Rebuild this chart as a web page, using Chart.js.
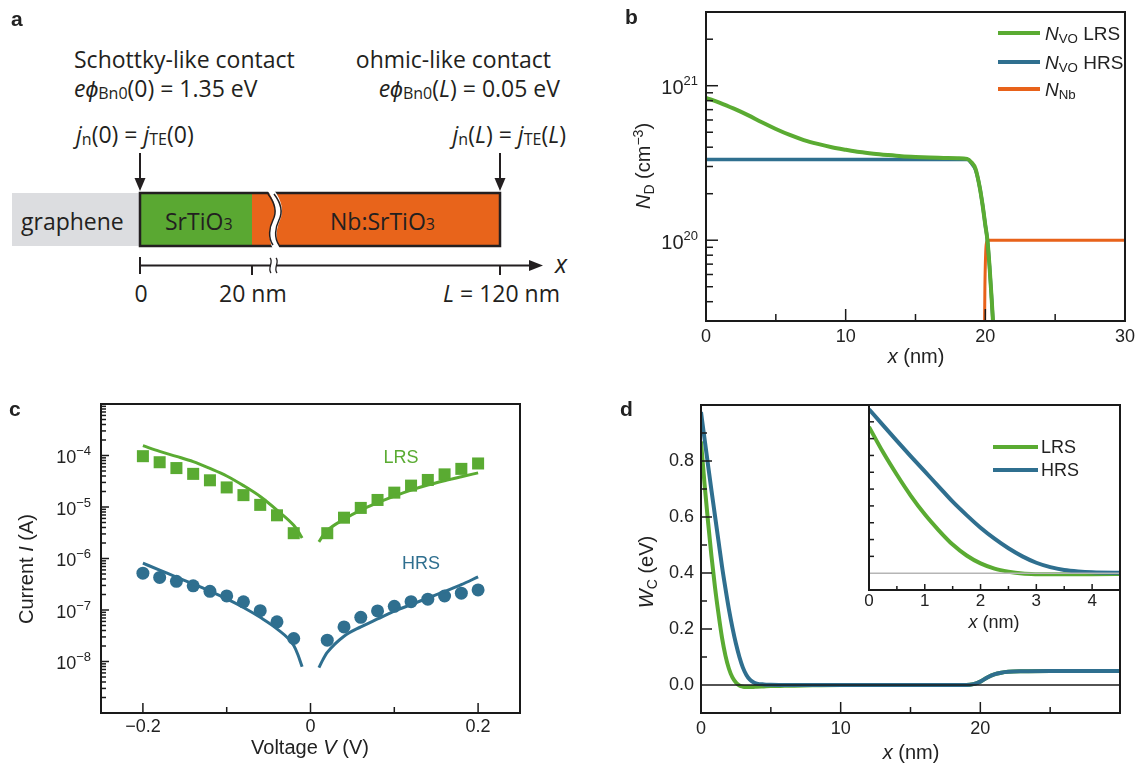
<!DOCTYPE html>
<html>
<head>
<meta charset="utf-8">
<script src="https://cdn.jsdelivr.net/npm/chart.js@4.4.0/dist/chart.umd.min.js"></script>
<style>
  html, body { margin: 0; padding: 0; background: #fff; }
  #fig { position: relative; width: 1140px; height: 767px; overflow: hidden;
         font-family: 'Liberation Sans', Arial, sans-serif; color: #222; }
  #fig canvas, #fig svg { position: absolute; left: 0; top: 0; }
  .lbl { position: absolute; white-space: nowrap; line-height: 1; }
  .mid { transform: translate(-50%, -50%); }
  .midY { transform: translateY(-50%); }
  .rot { transform: translate(-50%, -50%) rotate(-90deg); }
  .panel { font-weight: bold; font-size: 21px; }
  .ttl { font-size: 20px; }
  .key { position: absolute; height: 4px; }
  .lbl sub { font-size: 0.7em; vertical-align: -0.3em; line-height: 0; }
  .lbl sup { font-size: 0.7em; vertical-align: 0.5em; line-height: 0; }
</style>
</head>
<body>
<div id="fig">

  <!-- a: device schematic -->
  <svg width="600" height="320" font-family="'Open Sans', sans-serif" fill="#231f20" font-size="23">
    <text x="74" y="68">Schottky-like contact</text>
    <text x="74" y="97"><tspan font-style="italic">eϕ</tspan><tspan font-size="16" dy="2">Bn0</tspan><tspan dy="-2">(0) = 1.35 eV</tspan></text>
    <text x="551" y="68" text-anchor="end">ohmic-like contact</text>
    <text x="560" y="97" text-anchor="end"><tspan font-style="italic">eϕ</tspan><tspan font-size="16" dy="2">Bn0</tspan><tspan dy="-2">(</tspan><tspan font-style="italic">L</tspan><tspan>) = 0.05 eV</tspan></text>
    <text x="76" y="143"><tspan font-style="italic">j</tspan><tspan font-size="16" dy="2">n</tspan><tspan dy="-2">(0) = </tspan><tspan font-style="italic">j</tspan><tspan font-size="16" dy="2">TE</tspan><tspan dy="-2">(0)</tspan></text>
    <text x="566" y="143" text-anchor="end"><tspan font-style="italic">j</tspan><tspan font-size="16" dy="2">n</tspan><tspan dy="-2">(</tspan><tspan font-style="italic">L</tspan><tspan>) = </tspan><tspan font-style="italic">j</tspan><tspan font-size="16" dy="2">TE</tspan><tspan dy="-2">(</tspan><tspan font-style="italic">L</tspan><tspan>)</tspan></text>

    <g stroke="#231f20" stroke-width="2">
      <line x1="140" y1="153" x2="140" y2="181"/>
      <line x1="500" y1="153" x2="500" y2="181"/>
    </g>
    <path d="M134.5,178 L145.5,178 L140,191 Z"/>
    <path d="M494.5,178 L505.5,178 L500,191 Z"/>

    <rect x="12" y="193" width="128" height="53" fill="#dcdde0"/>
    <rect x="140" y="193" width="112" height="53" fill="#5aa832"/>
    <rect x="252" y="193" width="248" height="53" fill="#e8641b"/>
    <rect x="140" y="193" width="360" height="53" fill="none" stroke="#231f20" stroke-width="2.5"/>
    <path d="M267,190 C275,201 277,211 273,220 C269,229 268,239 273,249 L280,249 C275,239 276,229 280,220 C284,211 282,201 274,190 Z" fill="#fff"/>
    <g fill="none" stroke="#231f20" stroke-width="1.5">
      <path d="M268,194 C275,203 277,212 273,220 C269,228 268,238 273,245"/>
      <path d="M274,194 C281,203 283,212 279,220 C275,228 274,238 279,245"/>
    </g>
    <text x="21" y="230">graphene</text>
    <text x="165" y="230">SrTiO<tspan font-size="16">3</tspan></text>
    <text x="330" y="230">Nb:SrTiO<tspan font-size="16">3</tspan></text>

    <g stroke="#231f20" stroke-width="2">
      <line x1="140" y1="265.5" x2="532" y2="265.5"/>
      <line x1="140" y1="257" x2="140" y2="274"/>
      <line x1="252" y1="265" x2="252" y2="275"/>
      <line x1="500" y1="265" x2="500" y2="275"/>
    </g>
    <path d="M543,265.5 L529,260 L529,271 Z"/>
    <rect x="271" y="262" width="6" height="8" fill="#fff"/>
    <g fill="none" stroke="#231f20" stroke-width="1.3">
      <path d="M270,258 C274,262 267,268 271,273"/>
      <path d="M276,258 C280,262 273,268 277,273"/>
    </g>
    <text x="555" y="273" font-size="25" font-style="italic">x</text>
    <text x="141" y="302" text-anchor="middle">0</text>
    <text x="219" y="302">20 nm</text>
    <text x="560" y="302" text-anchor="end"><tspan font-style="italic">L</tspan> = 120 nm</text>
  </svg>

  <canvas id="ndChart" width="1140" height="767"></canvas>
  <canvas id="ivChart" width="1140" height="767"></canvas>
  <canvas id="wcChart" width="1140" height="767"></canvas>
  <canvas id="wcInset" width="1140" height="767"></canvas>

  <div class="lbl panel midY" style="left:11px;top:18px">a</div>
  <div class="lbl panel midY" style="left:625px;top:16px">b</div>
  <div class="lbl panel midY" style="left:9px;top:408px">c</div>
  <div class="lbl panel midY" style="left:620px;top:408px">d</div>

  <!-- b -->
  <div class="lbl ttl mid" style="left:916px;top:356px"><i>x</i> (nm)</div>
  <div class="lbl ttl rot" style="left:643px;top:166px"><i>N</i><sub>D</sub> (cm<sup>−3</sup>)</div>
  <div class="key" style="left:998px;top:31px;width:42px;background:#5aab32"></div>
  <div class="key" style="left:998px;top:60px;width:42px;background:#2f6f8f"></div>
  <div class="key" style="left:998px;top:87px;width:42px;background:#e8621a"></div>
  <div class="lbl midY" style="left:1045px;top:33px;font-size:19px"><i>N</i><sub>VO</sub> LRS</div>
  <div class="lbl midY" style="left:1045px;top:62px;font-size:19px"><i>N</i><sub>VO</sub> HRS</div>
  <div class="lbl midY" style="left:1045px;top:89px;font-size:19px"><i>N</i><sub>Nb</sub></div>

  <!-- c -->
  <div class="lbl ttl mid" style="left:310px;top:747px">Voltage <i>V</i> (V)</div>
  <div class="lbl ttl rot" style="left:26px;top:569px">Current <i>I</i> (A)</div>
  <div class="lbl mid" style="left:401px;top:457px;font-size:18px;color:#5aab32">LRS</div>
  <div class="lbl mid" style="left:421px;top:563px;font-size:18px;color:#2f6f8f">HRS</div>

  <!-- d -->
  <div class="lbl ttl mid" style="left:911px;top:752px"><i>x</i> (nm)</div>
  <div class="lbl ttl rot" style="left:646px;top:572px"><i>W</i><sub>C</sub> (eV)</div>
  <div class="lbl mid" style="left:994px;top:622px;font-size:18px"><i>x</i> (nm)</div>
  <div class="key" style="left:993px;top:445px;width:45px;background:#5aab32"></div>
  <div class="key" style="left:993px;top:468px;width:45px;background:#2f6f8f"></div>
  <div class="lbl midY" style="left:1041px;top:447px;font-size:18px">LRS</div>
  <div class="lbl midY" style="left:1041px;top:470px;font-size:18px">HRS</div>
</div>

<script>
const FONT = "'Liberation Sans', Arial, sans-serif";
const GREEN = '#5aab32';
const BLUE = '#2f6f8f';
const ORANGE = '#e8621a';

// b: donor density versus depth
const depthNm = [0, 1, 2, 3, 4, 5, 6, 7, 8, 9, 10, 11, 12, 13, 14, 15, 16, 17, 18,
  18.7, 19, 19.3, 19.6, 19.8, 20, 20.15, 20.3, 20.45, 20.6];
const nvoLrs = [8.35e20, 7.75e20, 7.1e20, 6.45e20, 5.8e20, 5.25e20, 4.8e20, 4.45e20, 4.2e20, 4.0e20,
  3.85e20, 3.72e20, 3.63e20, 3.56e20, 3.5e20, 3.46e20, 3.43e20, 3.41e20, 3.39e20,
  3.36e20, 3.2e20, 2.9e20, 2.2e20, 1.7e20, 1.25e20, 1.0e20, 6.8e19, 4.2e19, 2.5e19];
const nvoHrs = [3.33e20, 3.33e20, 3.33e20, 3.33e20, 3.33e20, 3.33e20, 3.33e20, 3.33e20, 3.33e20, 3.33e20,
  3.33e20, 3.33e20, 3.33e20, 3.33e20, 3.33e20, 3.33e20, 3.33e20, 3.33e20, 3.33e20,
  3.33e20, 3.15e20, 2.85e20, 2.2e20, 1.7e20, 1.25e20, 1.0e20, 6.8e19, 4.2e19, 2.5e19];
const nbDepthNm = [19.93, 19.97, 20.02, 20.08, 20.2, 30];
const nbDoping = [2e19, 5e19, 8e19, 9.6e19, 1e20, 1e20];
const ndDepthLabels = [0, 10, 20, 30];
const ndDecadeLabels = [20, 21];

// c: I-V, measured points and model fits
const measVoltage = [-0.2, -0.18, -0.16, -0.14, -0.12, -0.1, -0.08, -0.06, -0.04, -0.02,
  0.02, 0.04, 0.06, 0.08, 0.1, 0.12, 0.14, 0.16, 0.18, 0.2];
const lrsMeasured = [9.7e-5, 7.4e-5, 5.7e-5, 4.4e-5, 3.3e-5, 2.4e-5, 1.7e-5, 1.1e-5, 6.9e-6, 3.1e-6,
  3.1e-6, 6.2e-6, 9.6e-6, 1.37e-5, 1.9e-5, 2.6e-5, 3.35e-5, 4.3e-5, 5.5e-5, 7.0e-5];
const hrsMeasured = [5.2e-7, 4.3e-7, 3.6e-7, 2.95e-7, 2.3e-7, 1.88e-7, 1.44e-7, 9.7e-8, 5.9e-8, 2.8e-8,
  2.6e-8, 4.7e-8, 7.2e-8, 9.6e-8, 1.18e-7, 1.45e-7, 1.62e-7, 1.87e-7, 2.12e-7, 2.45e-7];
const fitVoltageNeg = [-0.2, -0.18, -0.16, -0.14, -0.12, -0.1, -0.08, -0.06, -0.04, -0.02, -0.015, -0.01];
const lrsFitNeg = [1.55e-4, 1.2e-4, 9.6e-5, 7.6e-5, 5.6e-5, 4.0e-5, 2.6e-5, 1.6e-5, 8.7e-6, 4.4e-6, 3.4e-6, 2.5e-6];
const hrsFitNeg = [8.1e-7, 5.95e-7, 4.35e-7, 3.2e-7, 2.32e-7, 1.64e-7, 1.12e-7, 7.2e-8, 4.3e-8, 2.05e-8, 1.35e-8, 7.9e-9];
const fitVoltagePos = [0.01, 0.015, 0.02, 0.04, 0.06, 0.08, 0.1, 0.12, 0.14, 0.16, 0.18, 0.2];
const lrsFitPos = [2.1e-6, 2.8e-6, 3.5e-6, 5.8e-6, 8.7e-6, 1.21e-5, 1.63e-5, 2.13e-5, 2.67e-5, 3.24e-5, 3.87e-5, 4.6e-5];
const hrsFitPos = [7.6e-9, 1.1e-8, 1.5e-8, 3.1e-8, 4.7e-8, 6.7e-8, 9.5e-8, 1.27e-7, 1.71e-7, 2.3e-7, 3.1e-7, 4.4e-7];
const ivVoltageLabels = [-0.2, 0, 0.2];
const ivDecades = [-9, -8, -7, -6, -5, -4, -3];
const ivDecadeLabels = [-8, -7, -6, -5, -4];

// d: conduction band edge
const wcDepth = [0, 0.25, 0.5, 0.75, 1, 1.25, 1.5, 1.75, 2, 2.25, 2.5, 2.75, 3, 3.25, 3.5, 3.75, 4,
  4.5, 5, 6, 8, 10, 15, 19, 19.5, 20, 20.5, 21, 21.5, 22, 23, 25, 30];
const wcLrs = [0.87, 0.72, 0.585, 0.46, 0.35, 0.255, 0.17, 0.105, 0.058, 0.027, 0.009, -0.002, -0.006,
  -0.007, -0.007, -0.007, -0.006, -0.005, -0.004, -0.003, -0.001, 0, 0, 0,
  0.003, 0.012, 0.027, 0.038, 0.044, 0.047, 0.049, 0.05, 0.05];
const wcHrs = [0.975, 0.88, 0.787, 0.695, 0.605, 0.515, 0.425, 0.345, 0.27, 0.205, 0.148, 0.1, 0.062,
  0.036, 0.019, 0.01, 0.005, 0.002, 0.001, 0, 0, 0, 0, 0,
  0.003, 0.012, 0.027, 0.038, 0.044, 0.047, 0.049, 0.05, 0.05];
const wcLabels = [0, 0.2, 0.4, 0.6, 0.8];
const wcDepthLabels = [0, 10, 20];
const insetDepthLabels = [0, 1, 2, 3, 4];

const pts = (xs, ys) => xs.map((x, i) => ({ x, y: ys[i] }));

// frame, inward tick marks, reference lines and 10^n labels
const frameTicks = {
  id: 'frameTicks',
  beforeDatasetsDraw(chart, args, opts) {
    if (!opts.background) return;
    const { ctx, chartArea: a } = chart;
    ctx.save();
    ctx.fillStyle = opts.background;
    ctx.fillRect(a.left, a.top, a.width, a.height);
    ctx.restore();
  },
  afterDatasetsDraw(chart, args, opts) {
    const { ctx, chartArea: a, scales } = chart;
    ctx.save();
    (opts.rules || []).forEach(r => {
      const y = scales.y.getPixelForValue(r.value);
      ctx.strokeStyle = r.color;
      ctx.lineWidth = r.width;
      ctx.beginPath(); ctx.moveTo(a.left, y); ctx.lineTo(a.right, y); ctx.stroke();
    });
    ctx.strokeStyle = '#1a1a1a';
    ctx.lineWidth = 1.5;
    ['x', 'y'].forEach(id => {
      const t = opts[id];
      if (!t) return;
      const s = scales[id];
      [[t.major || [], t.majorLen], [t.minor || [], t.minorLen]].forEach(([vals, len]) => {
        vals.forEach(v => {
          const p = s.getPixelForValue(v);
          ctx.beginPath();
          if (id === 'x') { ctx.moveTo(p, a.bottom); ctx.lineTo(p, a.bottom - len); }
          else { ctx.moveTo(a.left, p); ctx.lineTo(a.left + len, p); }
          ctx.stroke();
        });
      });
    });
    ctx.lineWidth = 2;
    ctx.strokeRect(a.left, a.top, a.width, a.height);

    const pw = opts.powers;
    if (pw) {
      ctx.fillStyle = '#222';
      ctx.textBaseline = 'middle';
      ctx.textAlign = 'left';
      pw.exponents.forEach(e => {
        const y = scales.y.getPixelForValue(Math.pow(10, e));
        const sup = e < 0 ? '\u2212' + (-e) : String(e);
        ctx.font = pw.supSize + 'px ' + FONT;
        const ws = ctx.measureText(sup).width;
        ctx.font = pw.size + 'px ' + FONT;
        const wb = ctx.measureText('10').width;
        const right = a.left - pw.gap;
        ctx.fillText('10', right - ws - wb, y + pw.shift);
        ctx.font = pw.supSize + 'px ' + FONT;
        ctx.fillText(sup, right - ws, y + pw.shift - pw.rise);
      });
    }
    ctx.restore();
  }
};
Chart.register(frameTicks);

function labelAxis(min, max, vals, fmt, size, pad, fit, vertical) {
  return {
    type: 'linear', min, max,
    grid: { display: false, drawTicks: false },
    border: { display: false },
    afterBuildTicks: s => { s.ticks = vals.map(value => ({ value })); },
    afterFit: s => { if (vertical) s.width = fit; else s.height = fit; },
    ticks: { display: vals.length > 0, autoSkip: false, maxRotation: 0, padding: pad,
             color: '#222', font: { size, family: FONT }, callback: fmt }
  };
}

function logAxis(min, max, fit) {
  return {
    type: 'logarithmic', min, max,
    grid: { display: false, drawTicks: false },
    border: { display: false },
    ticks: { display: false },
    afterFit: s => { s.width = fit; }
  };
}

function baseOptions(padding) {
  return {
    responsive: false,
    animation: false,
    events: [],
    layout: { padding },
    datasets: { line: { pointRadius: 0, cubicInterpolationMode: 'monotone', fill: false } },
    plugins: { legend: { display: false }, tooltip: { enabled: false } }
  };
}

const minorDecade = (decades) => {
  const out = [];
  decades.slice(0, -1).forEach(e => { for (let k = 2; k < 10; k++) out.push(k * Math.pow(10, e)); });
  return out;
};

// b
const ndOpts = baseOptions({ left: 646, right: 13, top: 12, bottom: 406 });
ndOpts.scales = {
  x: labelAxis(0, 30, ndDepthLabels, v => String(v), 18, 5, 40, false),
  y: logAxis(3e19, 3e21, 60)
};
ndOpts.plugins.frameTicks = {
  x: { major: [10, 20], majorLen: 12, minor: [5, 15, 25], minorLen: 7 },
  y: { major: [1e20, 1e21], majorLen: 12,
       minor: [4e19, 5e19, 6e19, 7e19, 8e19, 9e19].concat(minorDecade([20, 21]), [2e21]), minorLen: 7 },
  powers: { exponents: ndDecadeLabels, size: 20, supSize: 13, gap: 8, shift: 3, rise: 7 }
};
new Chart(document.getElementById('ndChart'), {
  type: 'line',
  data: { datasets: [
    { data: pts(depthNm, nvoLrs), borderColor: GREEN, borderWidth: 4 },
    { data: pts(depthNm, nvoHrs), borderColor: BLUE, borderWidth: 3.5 },
    { data: pts(nbDepthNm, nbDoping), borderColor: ORANGE, borderWidth: 3 }
  ] },
  options: ndOpts
});

// c
const ivOpts = baseOptions({ left: 41, right: 620, top: 404, bottom: 14 });
ivOpts.scales = {
  x: labelAxis(-0.25, 0.25, ivVoltageLabels,
    v => v === 0 ? '0' : (v < 0 ? '\u2212' : '') + Math.abs(v).toFixed(1), 18, 3, 40, false),
  y: logAxis(1e-9, 1e-3, 60)
};
ivOpts.plugins.frameTicks = {
  x: { major: [-0.2, 0, 0.2], majorLen: 10, minor: [-0.1, 0.1], minorLen: 6 },
  y: { major: ivDecades.map(e => Math.pow(10, e)), majorLen: 8, minor: minorDecade(ivDecades), minorLen: 5 },
  powers: { exponents: ivDecadeLabels, size: 18, supSize: 13, gap: 10, shift: 3, rise: 7 }
};
const marker = (xs, ys, color, style, r) => ({
  data: pts(xs, ys), showLine: false, pointStyle: style, pointRadius: r,
  backgroundColor: color, pointBackgroundColor: color, pointBorderWidth: 0, borderWidth: 0
});
new Chart(document.getElementById('ivChart'), {
  type: 'line',
  data: { datasets: [
    { data: pts(fitVoltageNeg, lrsFitNeg), borderColor: GREEN, borderWidth: 3 },
    { data: pts(fitVoltagePos, lrsFitPos), borderColor: GREEN, borderWidth: 3 },
    { data: pts(fitVoltageNeg, hrsFitNeg), borderColor: BLUE, borderWidth: 3 },
    { data: pts(fitVoltagePos, hrsFitPos), borderColor: BLUE, borderWidth: 3 },
    marker(measVoltage, lrsMeasured, GREEN, 'rect', 8.5),
    marker(measVoltage, hrsMeasured, BLUE, 'circle', 6.5)
  ] },
  options: ivOpts
});

// d, full depth
const wcOpts = baseOptions({ left: 641, right: 20, top: 405, bottom: 14 });
wcOpts.scales = {
  x: labelAxis(0, 30, wcDepthLabels, v => String(v), 18, 5, 40, false),
  y: labelAxis(-0.1, 1.0, wcLabels, v => v.toFixed(1), 18, 7, 60, true)
};
wcOpts.plugins.frameTicks = {
  rules: [{ value: 0, color: '#1a1a1a', width: 1.3 }],
  x: { major: [10, 20], majorLen: 11, minor: [5, 15, 25], minorLen: 6 },
  y: { major: [0.2, 0.4, 0.6, 0.8], majorLen: 11, minor: [0.1, 0.3, 0.5, 0.7, 0.9], minorLen: 6 }
};
new Chart(document.getElementById('wcChart'), {
  type: 'line',
  data: { datasets: [
    { data: pts(wcDepth, wcHrs), borderColor: BLUE, borderWidth: 4 },
    { data: pts(wcDepth, wcLrs), borderColor: GREEN, borderWidth: 4 }
  ] },
  options: wcOpts
});

// d, inset near the interface
const insetOpts = baseOptions({ left: 859, right: 20, top: 405, bottom: 137 });
insetOpts.scales = {
  x: labelAxis(0, 4.5, insetDepthLabels, v => String(v), 17, 1, 40, false),
  y: labelAxis(-0.1, 1.0, [], v => '', 10, 0, 10, true)
};
insetOpts.plugins.frameTicks = {
  background: '#fff',
  rules: [{ value: 0, color: '#b5b5b5', width: 1.5 }],
  x: { major: [1, 2, 3, 4], majorLen: 6, minor: [0.5, 1.5, 2.5, 3.5], minorLen: 4 },
  y: { major: [0.1, 0.2, 0.3, 0.4, 0.5, 0.6, 0.7, 0.8, 0.9], majorLen: 5 }
};
new Chart(document.getElementById('wcInset'), {
  type: 'line',
  data: { datasets: [
    { data: pts(wcDepth, wcHrs), borderColor: BLUE, borderWidth: 4 },
    { data: pts(wcDepth, wcLrs), borderColor: GREEN, borderWidth: 4 }
  ] },
  options: insetOpts
});
</script>
</body>
</html>
